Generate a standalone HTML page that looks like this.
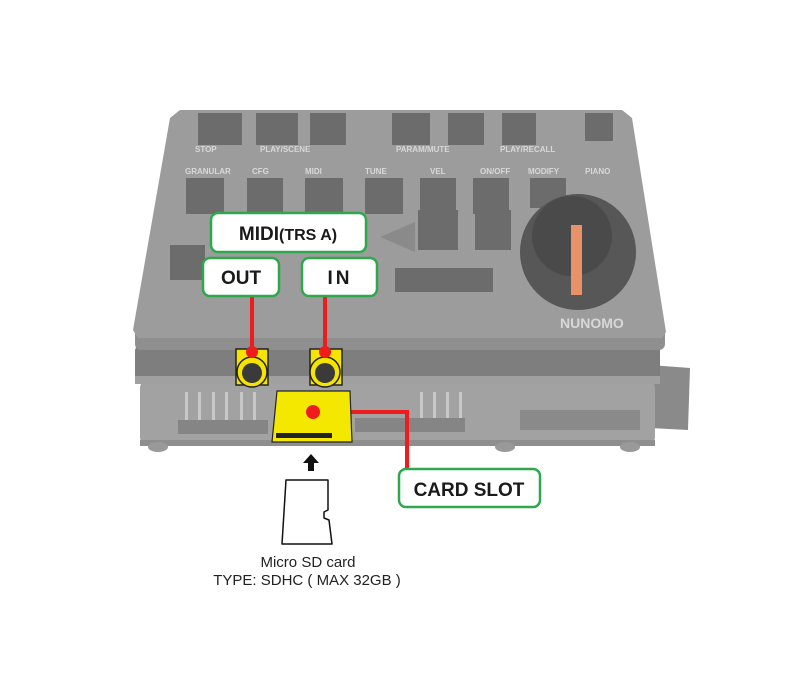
<!DOCTYPE html>
<html><head><meta charset="utf-8"><style>
html,body{margin:0;padding:0;background:#fff;}
svg{display:block;}
</style></head><body>
<svg width="800" height="676" viewBox="0 0 800 676" xmlns="http://www.w3.org/2000/svg" font-family="Liberation Sans, sans-serif">
<rect width="800" height="676" fill="#fff"/>
<!-- lower board + tab -->
<polygon points="650,365 690,368 688,430 650,428" fill="#8a8a8a"/>
<rect x="140" y="380" width="515" height="65" rx="8" fill="#a2a2a2"/>
<rect x="140" y="440" width="515" height="6" fill="#8e8e8e"/>
<ellipse cx="158" cy="447" rx="10" ry="5" fill="#999"/>
<ellipse cx="505" cy="447" rx="10" ry="5" fill="#999"/>
<ellipse cx="630" cy="447" rx="10" ry="5" fill="#999"/>
<!-- pin headers -->
<g fill="#c8c8c8">
<rect x="185" y="392" width="3" height="30"/><rect x="198" y="392" width="3" height="30"/><rect x="212" y="392" width="3" height="30"/><rect x="225" y="392" width="3" height="30"/><rect x="240" y="392" width="3" height="30"/><rect x="253" y="392" width="3" height="30"/>
<rect x="420" y="392" width="3" height="30"/><rect x="433" y="392" width="3" height="30"/><rect x="446" y="392" width="3" height="30"/><rect x="459" y="392" width="3" height="30"/>
</g>
<rect x="178" y="420" width="90" height="14" fill="#858585"/>
<rect x="355" y="418" width="110" height="14" fill="#858585"/>
<rect x="520" y="410" width="120" height="20" fill="#8a8a8a"/>
<!-- middle board -->
<rect x="135" y="345" width="525" height="37" rx="6" fill="#7e7e7e"/>
<rect x="135" y="376" width="525" height="8" fill="#a0a0a0"/>
<rect x="135" y="328" width="530" height="22" rx="6" fill="#8f8f8f"/>
<!-- top plate -->
<polygon points="180,110 622,110 632,118 666,332 662,338 138,338 133,330 170,118" fill="#9c9c9c"/>
<g fill="#6c6c6c">
<rect x="198" y="113" width="44" height="32"/><rect x="256" y="113" width="42" height="32"/><rect x="310" y="113" width="36" height="32"/>
<rect x="392" y="113" width="38" height="32"/><rect x="448" y="113" width="36" height="32"/><rect x="502" y="113" width="34" height="32"/><rect x="585" y="113" width="28" height="28"/>
<rect x="186" y="178" width="38" height="36"/><rect x="247" y="178" width="36" height="36"/><rect x="305" y="178" width="38" height="36"/><rect x="365" y="178" width="38" height="36"/>
<rect x="420" y="178" width="36" height="36"/><rect x="473" y="178" width="36" height="36"/><rect x="530" y="178" width="36" height="30"/>
<rect x="418" y="210" width="40" height="40"/><rect x="475" y="210" width="36" height="40"/>
<rect x="170" y="245" width="35" height="35"/>
<rect x="395" y="268" width="98" height="24"/>
</g>
<polygon points="380,237 415,222 415,252" fill="#8a8a8a"/>
<g fill="#d8d8d8" font-size="8" font-weight="bold">
<text x="195" y="152">STOP</text><text x="260" y="152">PLAY/SCENE</text><text x="396" y="152">PARAM/MUTE</text><text x="500" y="152">PLAY/RECALL</text>
<text x="185" y="174">GRANULAR</text><text x="252" y="174">CFG</text><text x="305" y="174">MIDI</text><text x="365" y="174">TUNE</text><text x="430" y="174">VEL</text><text x="480" y="174">ON/OFF</text><text x="528" y="174">MODIFY</text><text x="585" y="174">PIANO</text>
<text x="560" y="328" font-size="14">NUNOMO</text>
</g>
<!-- knob -->
<circle cx="578" cy="252" r="58" fill="#575757"/>
<circle cx="572" cy="236" r="40" fill="#4a4a4a"/>
<rect x="571" y="225" width="11" height="70" fill="#e9926a"/>
<!-- connectors -->
<g stroke="#ee1c1c" stroke-width="4" fill="none">
<line x1="252" y1="296" x2="252" y2="352"/>
<line x1="325" y1="296" x2="325" y2="352"/>
<polyline points="313,412 407,412 407,469"/>
</g>
<!-- jacks -->
<g>
<rect x="236" y="349" width="32" height="36" fill="#f5e400" stroke="#222" stroke-width="1.5"/>
<circle cx="252" cy="372" r="15" fill="#f5e400" stroke="#222" stroke-width="1.5"/>
<circle cx="252" cy="373" r="10" fill="#3a3a3a"/>
<rect x="310" y="349" width="32" height="36" fill="#f5e400" stroke="#222" stroke-width="1.5"/>
<circle cx="325" cy="372" r="15" fill="#f5e400" stroke="#222" stroke-width="1.5"/>
<circle cx="325" cy="373" r="10" fill="#3a3a3a"/>
</g>
<circle cx="252" cy="352" r="6" fill="#ee1c1c"/>
<circle cx="325" cy="352" r="6" fill="#ee1c1c"/>
<!-- SD slot -->
<polygon points="277,391 350,391 352,442 272,442" fill="#f5e800" stroke="#222" stroke-width="1.2"/>
<rect x="276" y="433" width="56" height="5" fill="#222"/>
<circle cx="313" cy="412" r="7" fill="#ee1c1c"/>
<!-- labels -->
<g fill="#fff" stroke="#2ea84a" stroke-width="2.5">
<rect x="211" y="213" width="155" height="39" rx="7"/>
<rect x="203" y="258" width="76" height="38" rx="7"/>
<rect x="302" y="258" width="75" height="38" rx="7"/>
<rect x="399" y="469" width="141" height="38" rx="7"/>
</g>
<g fill="#1a1a1a" font-weight="bold" text-anchor="middle">
<text x="288" y="240" font-size="19">MIDI<tspan font-size="16">(TRS A)</tspan></text>
<text x="241" y="284" font-size="19">OUT</text>
<text x="340" y="284" font-size="19" letter-spacing="3">IN</text>
<text x="469" y="496" font-size="19">CARD SLOT</text>
</g>
<!-- arrow -->
<polygon points="311,454 303,463 308,463 308,471 314,471 314,463 319,463" fill="#111"/>
<!-- micro sd -->
<path d="M286,480 L328,480 L328,510 L324,512 L324,518 L329,520 L332,544 L282,544 Z" fill="#fff" stroke="#111" stroke-width="1.5" stroke-linejoin="round"/>
<g fill="#222" font-size="15" text-anchor="middle">
<text x="308" y="567">Micro SD card</text>
<text x="307" y="585">TYPE:  SDHC ( MAX 32GB )</text>
</g>
</svg>
</body></html>
